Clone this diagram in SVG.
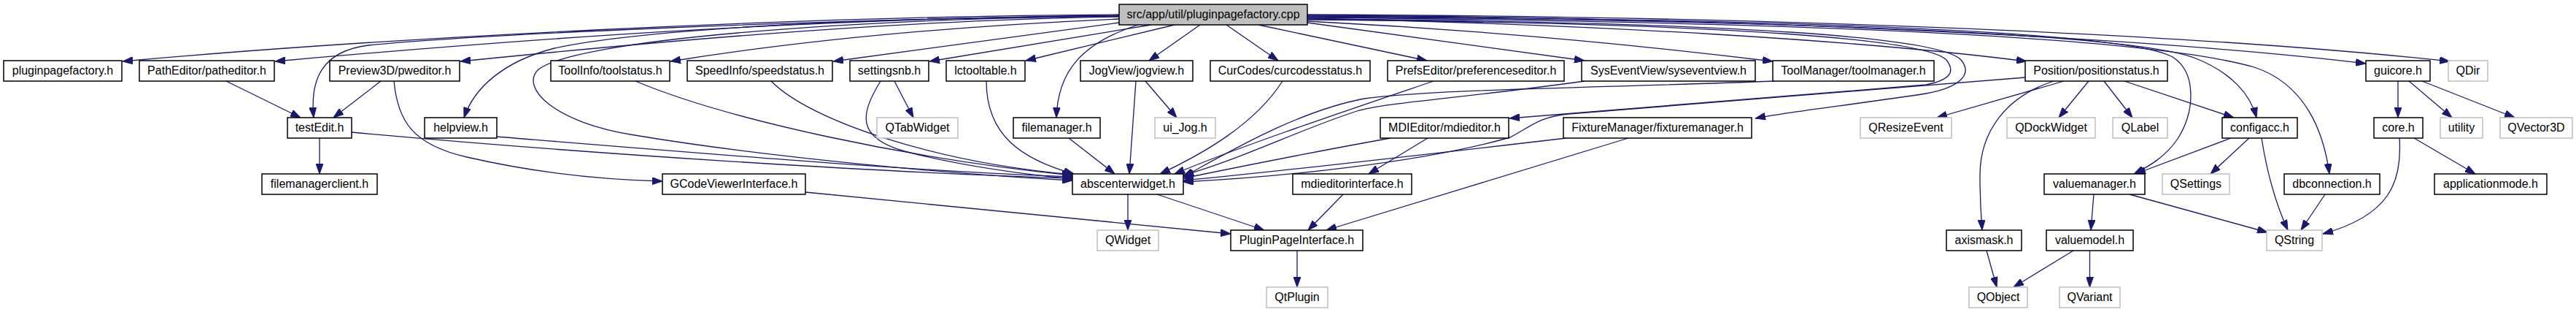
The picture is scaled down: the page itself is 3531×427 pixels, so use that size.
<svg xmlns="http://www.w3.org/2000/svg" width="3531" height="427" viewBox="0 0 3531 427">
<defs>
<style>
rect{fill:#fff;stroke:#000;stroke-width:1.5}
.g rect{stroke:#bfbfbf}
.r rect{fill:#bfbfbf}
text{font-family:"Liberation Sans",Arial,sans-serif;font-size:16px;text-anchor:middle;fill:#000}
#edges path{fill:none;stroke:#191970;stroke-width:1.3;marker-end:url(#ah)}
</style>
<marker id="ah" viewBox="0 0 14 10" markerWidth="14" markerHeight="10" refX="14" refY="5" orient="auto" markerUnits="userSpaceOnUse"><path d="M0,0 L14,5 L0,10 z" fill="#191970" stroke="#191970" stroke-width="1"/></marker>
</defs>
<rect x="0" y="0" width="3531" height="427" style="fill:#fff;stroke:none"/>
<g id="edges">
<path d="M1534,20 C1100,22 520,52 168,84"/>
<path d="M1534,21 C1100,25 700,55 377,84"/>
<path d="M1534,22 C1100,26 650,48 505,62 C440,70 425,110 430,161"/>
<path d="M1534,23 C1200,28 850,62 631,84"/>
<path d="M1534,22 C1150,26 790,55 738,95 C712,120 760,168 870,185 C1050,215 1300,238 1470,247"/>
<path d="M1534,22 C1150,24 870,42 760,66 C690,84 650,120 636,161"/>
<path d="M1534,26 C1300,36 1100,55 919,84"/>
<path d="M1534,31 L1142,84"/>
<path d="M1578,34 L1274,84"/>
<path d="M1610,34 L1406,83"/>
<path d="M1560,34 C1480,60 1450,100 1448,161"/>
<path d="M1645,34 L1575,83"/>
<path d="M1681,34 L1752,83"/>
<path d="M1725,34 L1956,83"/>
<path d="M1792,31 L2172,83"/>
<path d="M1792,29 C2050,42 2250,62 2430,84"/>
<path d="M1792,25 C2200,34 2550,55 2778,84"/>
<path d="M1792,27 C2400,32 2640,55 2668,82 C2682,100 2670,110 2640,116 C2400,135 2200,150 2069,162"/>
<path d="M1792,26 C2400,30 2660,52 2688,82 C2705,102 2685,120 2640,128 C2550,142 2450,153 2406,162"/>
<path d="M1792,22 C2500,26 2920,45 2978,78 C3010,98 3010,150 2985,190 C2968,215 2945,228 2925,238"/>
<path d="M1792,23 C2500,28 2930,48 3010,80 C3060,100 3085,130 3093,161"/>
<path d="M1792,24 C2500,30 2950,52 3090,92 C3160,115 3185,180 3193,238"/>
<path d="M1792,21 C2400,24 2950,52 3243,87"/>
<path d="M1792,20 C2400,22 3000,45 3358,84"/>
<path d="M310,111 L412,161"/>
<path d="M522,111 L457,161"/>
<path d="M540,111 C545,165 565,198 640,215 C740,238 830,246 908,248"/>
<path d="M438,189 L438,238"/>
<path d="M482,181 C800,210 1200,236 1470,244"/>
<path d="M681,187 C1000,213 1250,234 1470,242"/>
<path d="M871,111 C1000,165 1250,218 1470,240"/>
<path d="M1057,111 C1110,165 1280,222 1470,239"/>
<path d="M1226,111 L1252,161"/>
<path d="M1207,111 C1180,155 1172,188 1240,207 C1320,228 1400,238 1470,245"/>
<path d="M1352,111 C1352,185 1400,218 1472,238"/>
<path d="M1465,189 L1528,238"/>
<path d="M1557,111 L1548,238"/>
<path d="M1570,111 L1613,161"/>
<path d="M1758,111 C1720,170 1650,210 1590,238"/>
<path d="M1965,111 C1850,150 1700,200 1610,238"/>
<path d="M2172,111 C2000,135 1900,140 1860,152 C1780,178 1700,218 1622,240"/>
<path d="M2432,111 C2200,120 1960,122 1870,135 C1780,152 1690,205 1622,242"/>
<path d="M1906,189 C1800,208 1700,228 1622,244"/>
<path d="M2147,189 C1950,212 1750,235 1622,247"/>
<path d="M2776,106 C2500,130 2250,148 2150,156 C2110,160 2100,172 2070,188 C1950,222 1760,242 1622,249"/>
<path d="M1957,189 L1876,238"/>
<path d="M2232,189 L1818,315"/>
<path d="M1841,266 L1793,315"/>
<path d="M1586,266 L1733,315"/>
<path d="M1546,266 L1546,315"/>
<path d="M1104,263 L1687,320"/>
<path d="M1778,343 L1778,393"/>
<path d="M2829,111 L2655,161"/>
<path d="M2815,111 C2750,132 2714,180 2714,240 C2714,280 2716,300 2717,315"/>
<path d="M2863,111 L2822,161"/>
<path d="M2884,111 L2923,161"/>
<path d="M2912,111 L3062,161"/>
<path d="M3058,189 L2927,238"/>
<path d="M3083,189 L3030,238"/>
<path d="M3100,189 C3108,240 3120,280 3136,315"/>
<path d="M2919,266 L3108,318"/>
<path d="M2870,266 L2866,315"/>
<path d="M2842,343 L2760,393"/>
<path d="M2864.5,343 L2864.5,393"/>
<path d="M2723,343 L2737,393"/>
<path d="M3187,266 L3154,315"/>
<path d="M3289,189 C3293,250 3275,295 3184,320"/>
<path d="M3309,189 L3393,238"/>
<path d="M3287,111 L3287,161"/>
<path d="M3302,111 L3361,161"/>
<path d="M3320,111 L3447,161"/>
</g>
<g id="root" class="r"><rect x="1534" y="6" width="258" height="28"/><text x="1663" y="25">src/app/util/pluginpagefactory.cpp</text></g>
<g id="n_pluginpagefactory"><rect x="5" y="83" width="162" height="28"/><text x="86" y="102">pluginpagefactory.h</text></g>
<g id="n_patheditor"><rect x="191" y="83" width="185" height="28"/><text x="283.5" y="102">PathEditor/patheditor.h</text></g>
<g id="n_pweditor"><rect x="452" y="83" width="178" height="28"/><text x="541" y="102">Preview3D/pweditor.h</text></g>
<g id="n_toolstatus"><rect x="755" y="83" width="163" height="28"/><text x="836.5" y="102">ToolInfo/toolstatus.h</text></g>
<g id="n_speedstatus"><rect x="942" y="83" width="199" height="28"/><text x="1041.5" y="102">SpeedInfo/speedstatus.h</text></g>
<g id="n_settingsnb"><rect x="1165" y="83" width="108" height="28"/><text x="1219" y="102">settingsnb.h</text></g>
<g id="n_lctooltable"><rect x="1297" y="83" width="108" height="28"/><text x="1351" y="102">lctooltable.h</text></g>
<g id="n_jogview"><rect x="1481" y="83" width="154" height="28"/><text x="1558" y="102">JogView/jogview.h</text></g>
<g id="n_curcodes"><rect x="1659" y="83" width="219" height="28"/><text x="1768.5" y="102">CurCodes/curcodesstatus.h</text></g>
<g id="n_prefs"><rect x="1902" y="83" width="242" height="28"/><text x="2023" y="102">PrefsEditor/preferenceseditor.h</text></g>
<g id="n_sysevent"><rect x="2168" y="83" width="238" height="28"/><text x="2287" y="102">SysEventView/syseventview.h</text></g>
<g id="n_toolmanager"><rect x="2430" y="83" width="221" height="28"/><text x="2540.5" y="102">ToolManager/toolmanager.h</text></g>
<g id="n_position"><rect x="2776" y="83" width="195" height="28"/><text x="2873.5" y="102">Position/positionstatus.h</text></g>
<g id="n_guicore"><rect x="3243" y="83" width="88" height="28"/><text x="3287" y="102">guicore.h</text></g>
<g id="n_qdir" class="g"><rect x="3356" y="83" width="54" height="28"/><text x="3383" y="102">QDir</text></g>
<g id="n_testedit"><rect x="394" y="161" width="88" height="28"/><text x="438" y="180">testEdit.h</text></g>
<g id="n_helpview"><rect x="582" y="161" width="99" height="28"/><text x="631.5" y="180">helpview.h</text></g>
<g id="n_qtabwidget" class="g"><rect x="1202" y="161" width="111" height="28"/><text x="1257.5" y="180">QTabWidget</text></g>
<g id="n_filemanager"><rect x="1389" y="161" width="119" height="28"/><text x="1448.5" y="180">filemanager.h</text></g>
<g id="n_uijog" class="g"><rect x="1583" y="161" width="83" height="28"/><text x="1624.5" y="180">ui_Jog.h</text></g>
<g id="n_mdieditor"><rect x="1892" y="161" width="176" height="28"/><text x="1980" y="180">MDIEditor/mdieditor.h</text></g>
<g id="n_fixture"><rect x="2143" y="161" width="258" height="28"/><text x="2272" y="180">FixtureManager/fixturemanager.h</text></g>
<g id="n_qresize" class="g"><rect x="2550" y="161" width="125" height="28"/><text x="2612.5" y="180">QResizeEvent</text></g>
<g id="n_qdock" class="g"><rect x="2751" y="161" width="121" height="28"/><text x="2811.5" y="180">QDockWidget</text></g>
<g id="n_qlabel" class="g"><rect x="2896" y="161" width="75" height="28"/><text x="2933.5" y="180">QLabel</text></g>
<g id="n_configacc"><rect x="3046" y="161" width="103" height="28"/><text x="3097.5" y="180">configacc.h</text></g>
<g id="n_core"><rect x="3254" y="161" width="67" height="28"/><text x="3287.5" y="180">core.h</text></g>
<g id="n_utility" class="g"><rect x="3345" y="161" width="58" height="28"/><text x="3374" y="180">utility</text></g>
<g id="n_qvector3d" class="g"><rect x="3427" y="161" width="99" height="28"/><text x="3476.5" y="180">QVector3D</text></g>
<g id="n_fmclient"><rect x="359" y="238" width="158" height="28"/><text x="438" y="257">filemanagerclient.h</text></g>
<g id="n_gcode"><rect x="908" y="238" width="196" height="28"/><text x="1006" y="257">GCodeViewerInterface.h</text></g>
<g id="n_abscenter"><rect x="1470" y="238" width="152" height="28"/><text x="1546" y="257">abscenterwidget.h</text></g>
<g id="n_mdiif"><rect x="1772" y="238" width="163" height="28"/><text x="1853.5" y="257">mdieditorinterface.h</text></g>
<g id="n_valuemanager"><rect x="2802" y="238" width="138" height="28"/><text x="2871" y="257">valuemanager.h</text></g>
<g id="n_qsettings" class="g"><rect x="2964" y="238" width="92" height="28"/><text x="3010" y="257">QSettings</text></g>
<g id="n_dbconn"><rect x="3131" y="238" width="131" height="28"/><text x="3196.5" y="257">dbconnection.h</text></g>
<g id="n_appmode"><rect x="3337" y="238" width="154" height="28"/><text x="3414" y="257">applicationmode.h</text></g>
<g id="n_qwidget" class="g"><rect x="1504" y="315" width="84" height="28"/><text x="1546" y="334">QWidget</text></g>
<g id="n_ppi"><rect x="1687" y="315" width="181" height="28"/><text x="1777.5" y="334">PluginPageInterface.h</text></g>
<g id="n_axismask"><rect x="2668" y="315" width="103" height="28"/><text x="2719.5" y="334">axismask.h</text></g>
<g id="n_valuemodel"><rect x="2805" y="315" width="119" height="28"/><text x="2864.5" y="334">valuemodel.h</text></g>
<g id="n_qstring" class="g"><rect x="3107" y="315" width="76" height="28"/><text x="3145" y="334">QString</text></g>
<g id="n_qtplugin" class="g"><rect x="1736" y="393" width="84" height="28"/><text x="1778" y="412">QtPlugin</text></g>
<g id="n_qobject" class="g"><rect x="2699" y="393" width="80" height="28"/><text x="2739" y="412">QObject</text></g>
<g id="n_qvariant" class="g"><rect x="2823" y="393" width="83" height="28"/><text x="2864.5" y="412">QVariant</text></g>
</svg>
